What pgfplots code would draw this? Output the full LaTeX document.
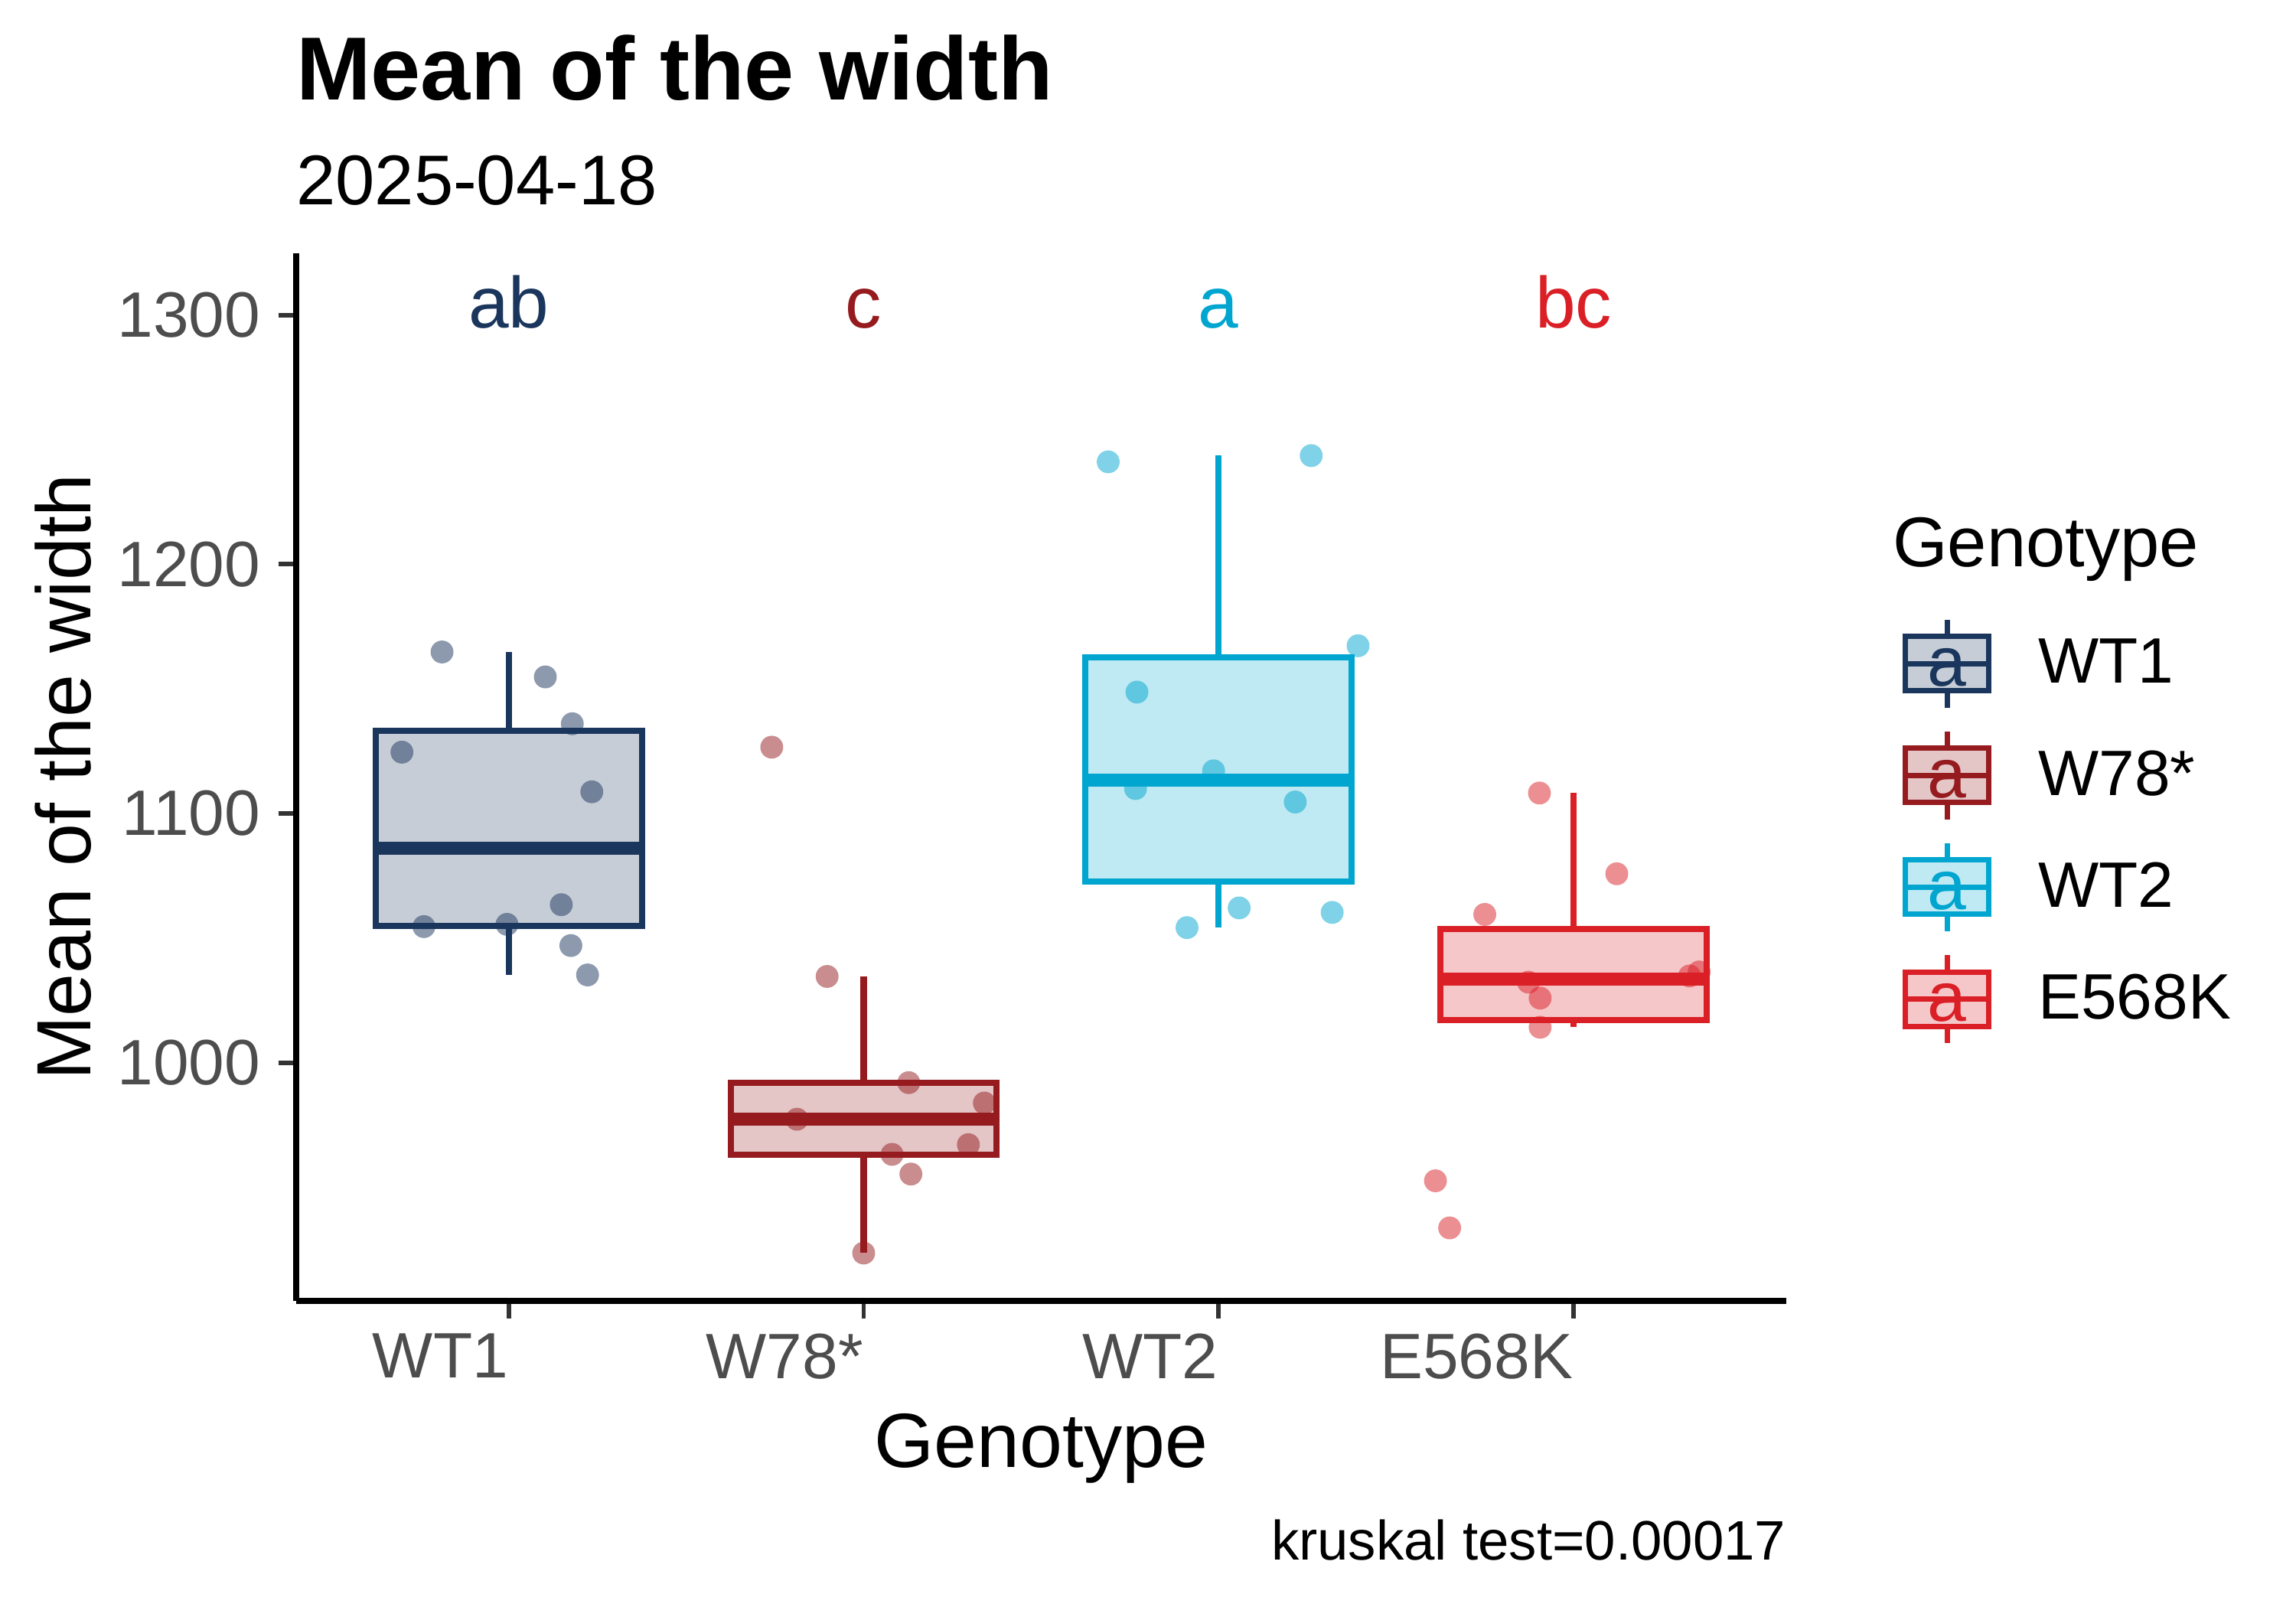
\documentclass[border=0pt]{standalone}
\usepackage{pgfplots}
\pgfplotsset{compat=1.18}
\usepackage{fontspec}
\setmainfont{Liberation Sans}
\definecolor{cwta}{HTML}{1B365D}
\definecolor{cw78}{HTML}{951B1F}
\definecolor{cwtb}{HTML}{00A6CF}
\definecolor{ce568}{HTML}{DA1F26}
\definecolor{tickgrey}{HTML}{333333}
\definecolor{labgrey}{HTML}{4D4D4D}
\newcommand\fs[1]{\fontsize{#1}{#1}\selectfont}
\pgfplotsset{
  gbox/.style={draw=#1, fill=#1!25!white, line width=1.93pt, line join=miter, forget plot},
  gwhisk/.style={draw=#1, line width=1.93pt, forget plot},
  gmed/.style={draw=#1, line width=4.1pt, forget plot},
  gpts/.style={only marks, mark=*, mark size=3.6pt, forget plot, color=#1,
    mark options={fill=#1, draw=#1, draw opacity=0, fill opacity=0.5}},
  legkey/.style={legend image code/.code={
     \draw[line width=1.7pt, draw=#1, fill=#1!25!white] (0pt,-8.55pt) rectangle (26.3pt,8.55pt);
     \draw[line width=1.7pt, draw=#1] (0pt,0pt) -- (26.3pt,0pt);
     \draw[line width=1.7pt, draw=#1] (13.15pt,8.55pt) -- (13.15pt,13.85pt);
     \draw[line width=1.7pt, draw=#1] (13.15pt,-8.55pt) -- (13.15pt,-13.85pt);
     \node[text=#1, inner sep=0pt, anchor=center, font=\fs{22}] at (13.15pt,-1.9pt) {a};
  }},
}
\begin{document}
\begin{tikzpicture}
\path[use as bounding box] (0pt,0pt) rectangle (722.7pt,505.89pt);
\begin{axis}[
  at={(93.11pt,96.36pt)}, anchor=south west,
  scale only axis, width=469.2pt, height=329.8pt,
  xmin=0.4, xmax=4.6, ymin=904.4, ymax=1324.8,
  axis lines*=left,
  axis line style={line width=1.93pt, black},
  xtick={1,2,3,4}, xticklabels={WT1,W78*,WT2,E568K},
  ytick={1000,1100,1200,1300},
  tick align=outside, major tick length=5.5pt,
  tick style={line width=1.4pt, tickgrey},
  ticklabel style={font=\fs{20.2}, text=labgrey, inner sep=0pt},
  xticklabel style={anchor=north east, yshift=-4.6pt},
  yticklabel style={anchor=east, xshift=-5.5pt},
  /pgf/number format/assume math mode=true,
  /pgf/number format/1000 sep={},
  clip=false,
  xlabel={Genotype}, ylabel={Mean of the width},
  label style={font=\fs{24.2}},
  xlabel style={at={(axis description cs:0.5,-0.1592)}, anchor=base, inner sep=0pt},
  ylabel style={at={(axis description cs:-0.1374,0.5)}, anchor=base, inner sep=0pt},
  legend cell align=left,
  legend style={at={(axis description cs:1.0775,0.6535)}, anchor=north west,
    draw=none, fill=none, inner sep=0pt, row sep=5.8pt, column sep=14.7pt,
    font=\fs{20.2}, nodes={inner sep=0pt, anchor=west}},
]
% ---- WT1 (median 1086.0, Q1 1054.8, Q3 1133.2, whiskers 1035.2 / 1164.8)
\addplot[gwhisk=cwta] coordinates {(1,1133.2) (1,1164.8)};
\addplot[gwhisk=cwta] coordinates {(1,1054.8) (1,1035.2)};
\addplot[gbox=cwta] coordinates {(0.625,1054.8) (1.375,1054.8) (1.375,1133.2) (0.625,1133.2)} -- cycle;
\addplot[gmed=cwta] coordinates {(0.625,1086.0) (1.375,1086.0)};
% ---- W78* (median 977.3, Q1 963.2, Q3 992.0, whiskers 923.6 / 1034.6)
\addplot[gwhisk=cw78] coordinates {(2,992.0) (2,1034.6)};
\addplot[gwhisk=cw78] coordinates {(2,963.2) (2,923.6)};
\addplot[gbox=cw78] coordinates {(1.625,963.2) (2.375,963.2) (2.375,992.0) (1.625,992.0)} -- cycle;
\addplot[gmed=cw78] coordinates {(1.625,977.3) (2.375,977.3)};
% ---- WT2 (median 1113.5, Q1 1072.7, Q3 1162.6, whiskers 1054.2 / 1243.6)
\addplot[gwhisk=cwtb] coordinates {(3,1162.6) (3,1243.6)};
\addplot[gwhisk=cwtb] coordinates {(3,1072.7) (3,1054.2)};
\addplot[gbox=cwtb] coordinates {(2.625,1072.7) (3.375,1072.7) (3.375,1162.6) (2.625,1162.6)} -- cycle;
\addplot[gmed=cwtb] coordinates {(2.625,1113.5) (3.375,1113.5)};
% ---- E568K (median 1033.5, Q1 1017.1, Q3 1053.7, whiskers 1014.2 / 1108.2)
\addplot[gwhisk=ce568] coordinates {(4,1053.7) (4,1108.2)};
\addplot[gwhisk=ce568] coordinates {(4,1017.1) (4,1014.2)};
\addplot[gbox=ce568] coordinates {(3.625,1017.1) (4.375,1017.1) (4.375,1053.7) (3.625,1053.7)} -- cycle;
\addplot[gmed=ce568] coordinates {(3.625,1033.5) (4.375,1033.5)};

\addplot[gpts=cwta] table {
x y
0.812 1164.8
1.103 1154.8
1.179 1136.0
0.699 1124.6
1.234 1108.7
1.148 1063.4
0.761 1054.6
0.995 1055.5
1.175 1047.0
1.222 1035.2
};
\addplot[gpts=cw78] table {
x y
1.741 1126.6
1.897 1034.6
2.127 992.0
2.340 983.8
1.812 977.3
2.295 967.1
2.080 963.2
2.133 955.3
2.000 923.6
};
\addplot[gpts=cwtb] table {
x y
2.689 1241.1
3.261 1243.6
3.393 1167.3
2.770 1148.7
2.986 1117.1
2.766 1110.0
3.216 1104.6
3.058 1062.1
3.320 1060.3
2.911 1054.2
};
\addplot[gpts=ce568] table {
x y
3.904 1108.2
4.122 1075.8
3.750 1059.5
4.354 1036.4
4.327 1034.8
3.873 1032.3
3.906 1025.9
3.906 1014.2
3.611 952.6
3.651 933.7
};

\node[text=cwta, font=\fs{22.8}, anchor=base, inner sep=0pt] at (axis cs:1,1295) {ab};
\node[text=cw78, font=\fs{22.8}, anchor=base, inner sep=0pt] at (axis cs:2,1295) {c};
\node[text=cwtb, font=\fs{22.8}, anchor=base, inner sep=0pt] at (axis cs:3,1295) {a};
\node[text=ce568, font=\fs{22.8}, anchor=base, inner sep=0pt] at (axis cs:4,1295) {bc};

\addlegendimage{legkey=cwta}\addlegendentry{WT1}
\addlegendimage{legkey=cw78}\addlegendentry{W78*}
\addlegendimage{legkey=cwtb}\addlegendentry{WT2}
\addlegendimage{legkey=ce568}\addlegendentry{E568K}

\node[anchor=base west, font=\fs{22.2}, inner sep=0pt] at (axis description cs:1.0709,0.7012) {Genotype};
\node[anchor=base west, font=\fs{28.2}\bfseries, inner sep=0pt] at (axis description cs:0,1.1461) {Mean of the width};
\node[anchor=base west, font=\fs{22.2}, inner sep=0pt] at (axis description cs:0,1.0460) {2025-04-18};
\node[anchor=base east, font=\fs{17.5}, inner sep=0pt] at (axis description cs:1,-0.2469) {kruskal test=0.00017};
\end{axis}
\end{tikzpicture}
\end{document}
